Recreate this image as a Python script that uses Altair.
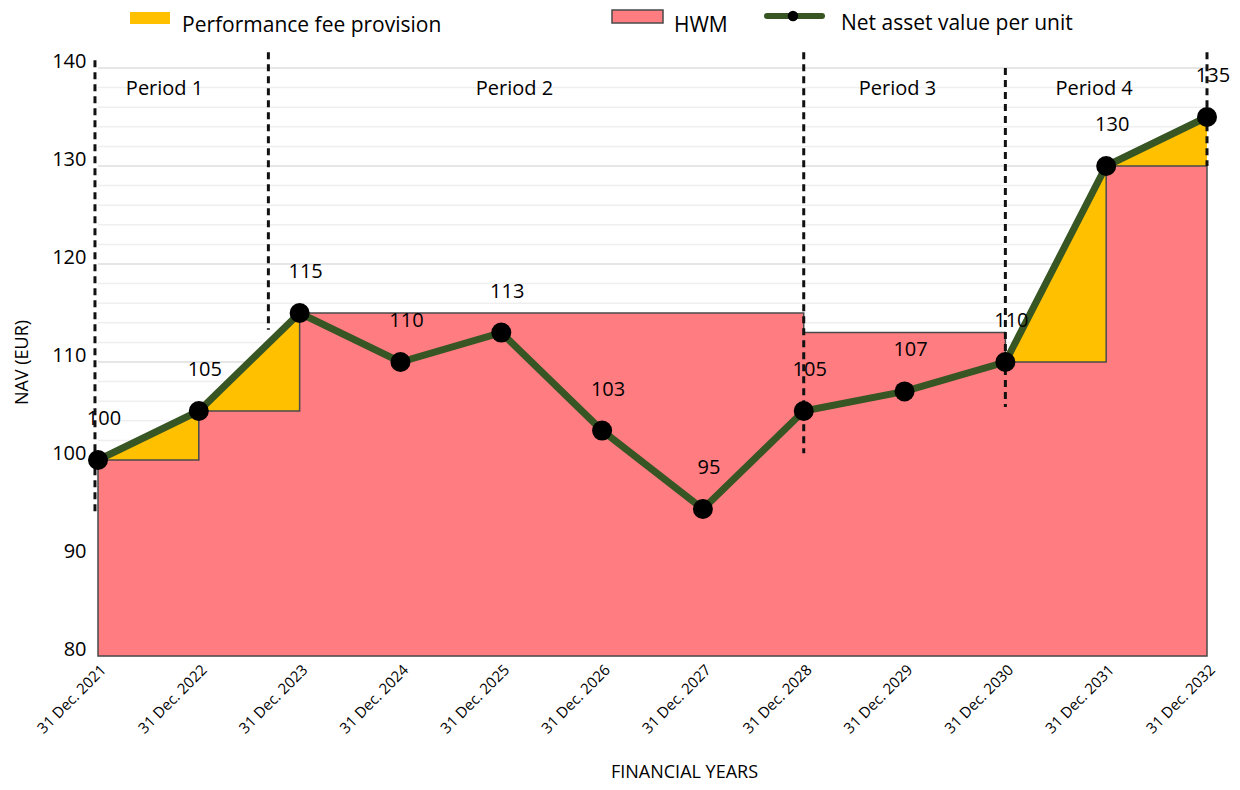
import altair as alt
import pandas as pd

# ---- data ----
years = [2021, 2022, 2023, 2024, 2025, 2026, 2027, 2028, 2029, 2030, 2031, 2032]
nav = [100, 105, 115, 110, 113, 103, 95, 105, 107, 110, 130, 135]
hwm = [100, 105, 115, 115, 115, 115, 115, 113, 113, 110, 130, 130]

period_names = ["Period 1", "Period 2", "Period 3", "Period 4"]
period_label_x = [2021.66, 2025.13, 2028.93, 2030.88]
period_label_y = [137.9, 137.9, 137.9, 137.9]

boundary_x = [2020.97, 2022.69, 2028.0, 2030.0, 2032.0]
boundary_top = [140.8, 141.6, 141.6, 140.0, 141.6]
boundary_bottom = [94.4, 113.3, 100.7, 105.4, 130.0]

y_ticks = [80, 90, 100, 110, 120, 130, 140]
minor_grid = [82, 84, 86, 88, 92, 94, 96, 98, 102, 104, 106, 108, 112, 114, 116, 118,
              122, 124, 126, 128, 132, 134, 136, 138]

FONT = "Open Sans"
YELLOW = "#FFC000"
RED = "#FF7C80"
GREEN = "#375623"

df = pd.DataFrame({"year": years, "nav": nav, "hwm": hwm})
df["base"] = 80
bdf = pd.DataFrame({"x": boundary_x, "y1": boundary_top, "y2": boundary_bottom})
pdf = pd.DataFrame({"x": period_label_x, "y": period_label_y, "name": period_names})
gmajor = pd.DataFrame({"v": y_ticks})
gminor = pd.DataFrame({"v": minor_grid})

xs = alt.Scale(domain=[2021, 2032], nice=False, zero=False)
ys = alt.Scale(domain=[80, 140], nice=False, zero=False)

x_axis = alt.Axis(
    values=years, labelExpr="'31 Dec. ' + datum.value", labelAngle=-45,
    labelFont=FONT, labelFontSize=15, labelColor="#000", labelPadding=6,
    domain=False, ticks=False, grid=False,
    title="FINANCIAL YEARS", titleFont=FONT, titleFontSize=18, titleFontWeight="normal",
    titleColor="#000", titleX=586, titleY=116, titleBaseline="middle", titleAlign="center",
)
y_axis = alt.Axis(
    values=y_ticks, labelFont=FONT, labelFontSize=20, labelColor="#000", labelPadding=12,
    labelOffset=-7, domain=False, ticks=False, grid=False,
    title="NAV (EUR)", titleFont=FONT, titleFontSize=18, titleFontWeight="normal",
    titleColor="#000", titleX=-76, titleY=294, titleAngle=-90, titleBaseline="middle",
    titleAlign="center",
)

grid_minor = alt.Chart(gminor).mark_rule(color="#efefef", strokeWidth=1.5).encode(
    y=alt.Y("v:Q", scale=ys, axis=y_axis))
grid_major = alt.Chart(gmajor).mark_rule(color="#dedede", strokeWidth=1.5).encode(
    y=alt.Y("v:Q", scale=ys, axis=y_axis))

fee_area = alt.Chart(df).mark_area(color=YELLOW, opacity=1).encode(
    x=alt.X("year:Q", scale=xs, axis=x_axis),
    y=alt.Y("nav:Q", scale=ys, axis=y_axis),
    y2="base:Q",
)
hwm_area = alt.Chart(df).mark_area(
    interpolate="step-after", fill=RED, fillOpacity=1, stroke="#4a4a4a", strokeWidth=1.5
).encode(
    x=alt.X("year:Q", scale=xs, axis=x_axis),
    y=alt.Y("hwm:Q", scale=ys, axis=y_axis),
    y2="base:Q",
)
bounds = alt.Chart(bdf).mark_rule(color="#111", strokeWidth=3, strokeDash=[7, 5]).encode(
    x=alt.X("x:Q", scale=xs, axis=x_axis), y=alt.Y("y1:Q", scale=ys, axis=y_axis), y2="y2:Q")
nav_line = alt.Chart(df).mark_line(color=GREEN, strokeWidth=7).encode(
    x=alt.X("year:Q", scale=xs, axis=x_axis), y=alt.Y("nav:Q", scale=ys, axis=y_axis))
nav_pts = alt.Chart(df).mark_circle(color="#000", size=400, opacity=1).encode(
    x=alt.X("year:Q", scale=xs, axis=x_axis), y=alt.Y("nav:Q", scale=ys, axis=y_axis))
nav_txt = alt.Chart(df).mark_text(font=FONT, fontSize=20, color="#000", dx=6, dy=-41).encode(
    x=alt.X("year:Q", scale=xs, axis=x_axis), y=alt.Y("nav:Q", scale=ys, axis=y_axis), text="nav:Q")
period_txt = alt.Chart(pdf).mark_text(font=FONT, fontSize=20, color="#000").encode(
    x=alt.X("x:Q", scale=xs, axis=x_axis), y=alt.Y("y:Q", scale=ys, axis=y_axis), text="name:N")

one = pd.DataFrame({"k": [0]})
leg = [
    alt.Chart(one).mark_rect(color=YELLOW).encode(
        x=alt.value(32), x2=alt.value(72), y=alt.value(-56), y2=alt.value(-44)),
    alt.Chart(one).mark_text(font=FONT, fontSize=21, align="left", baseline="middle", color="#000").encode(
        x=alt.value(84), y=alt.value(-42), text=alt.value("Performance fee provision")),
    alt.Chart(one).mark_rect(fill=RED, stroke="#4a4a4a", strokeWidth=1.5).encode(
        x=alt.value(514), x2=alt.value(565), y=alt.value(-58), y2=alt.value(-45)),
    alt.Chart(one).mark_text(font=FONT, fontSize=21, align="left", baseline="middle", color="#000").encode(
        x=alt.value(576), y=alt.value(-42), text=alt.value("HWM")),
    alt.Chart(one).mark_rule(color=GREEN, strokeWidth=6, strokeCap="round").encode(
        x=alt.value(669), x2=alt.value(724), y=alt.value(-52)),
    alt.Chart(one).mark_circle(color="#000", size=110, opacity=1).encode(
        x=alt.value(695), y=alt.value(-52)),
    alt.Chart(one).mark_text(font=FONT, fontSize=21, align="left", baseline="middle", color="#000").encode(
        x=alt.value(743), y=alt.value(-44), text=alt.value("Net asset value per unit")),
]

chart = alt.layer(
    grid_minor, grid_major, fee_area, hwm_area, bounds, nav_line, nav_pts, nav_txt, period_txt, *leg
).properties(
    width=1109, height=588,
    autosize=alt.AutoSizeParams(type="none"),
    padding={"left": 90, "top": 60, "right": 25, "bottom": 126},
).configure_view(stroke=None)

chart.save("out.html", embed_options={"renderer": "svg", "actions": False})
